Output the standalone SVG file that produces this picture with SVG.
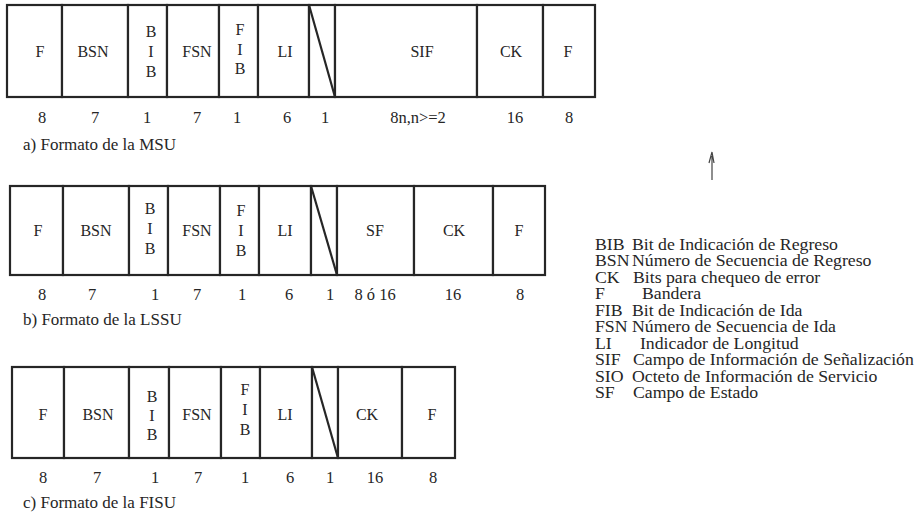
<svg xmlns="http://www.w3.org/2000/svg" width="921" height="516" viewBox="0 0 921 516">
  <style>
    .fld { fill: #fff; stroke: #262626; stroke-width: 2.2; }
    .slash { stroke: #262626; stroke-width: 2.2; fill: none; }
    text { font-family: "Liberation Serif", "Times New Roman", serif; fill: #262626; }
    .lbl { font-size: 16px; text-anchor: middle; }
    .num { font-size: 16.5px; text-anchor: middle; }
    .cap { font-size: 17px; }
    .leg { font-size: 16px; }
  </style>
  <rect width="921" height="516" fill="#fff"/>

  <!-- a) MSU -->
  <g id="msu">
    <g id="msu-f1"><rect class="fld" x="7" y="5" width="55" height="92"/><text class="lbl" x="40" y="57">F</text></g>
    <g id="msu-bsn"><rect class="fld" x="62" y="5" width="66" height="92"/><text class="lbl" x="93" y="57">BSN</text></g>
    <g id="msu-bib"><rect class="fld" x="128" y="5" width="39" height="92"/><text class="lbl" x="151" y="37">B</text><text class="lbl" x="151" y="57">I</text><text class="lbl" x="151" y="77">B</text></g>
    <g id="msu-fsn"><rect class="fld" x="167" y="5" width="52" height="92"/><text class="lbl" x="197" y="57">FSN</text></g>
    <g id="msu-fib"><rect class="fld" x="219" y="5" width="39" height="92"/><text class="lbl" x="240" y="35">F</text><text class="lbl" x="240" y="55">I</text><text class="lbl" x="240" y="74">B</text></g>
    <g id="msu-li"><rect class="fld" x="258" y="5" width="51" height="92"/><text class="lbl" x="285" y="57">LI</text></g>
    <g id="msu-sp"><rect class="fld" x="309" y="5" width="26" height="92"/><line class="slash" x1="309" y1="5" x2="335" y2="97"/></g>
    <g id="msu-sif"><rect class="fld" x="335" y="5" width="142" height="92"/><text class="lbl" x="422" y="57">SIF</text></g>
    <g id="msu-ck"><rect class="fld" x="477" y="5" width="66" height="92"/><text class="lbl" x="511" y="57">CK</text></g>
    <g id="msu-f2"><rect class="fld" x="543" y="5" width="52" height="92"/><text class="lbl" x="568" y="57">F</text></g>
    <g id="msu-bits">
      <text class="num" x="42" y="123">8</text><text class="num" x="95" y="123">7</text><text class="num" x="147" y="123">1</text>
      <text class="num" x="197" y="123">7</text><text class="num" x="237" y="123">1</text><text class="num" x="287" y="123">6</text>
      <text class="num" x="325" y="123">1</text><text class="num" x="418" y="123">8n,n&gt;=2</text><text class="num" x="515" y="123">16</text>
      <text class="num" x="569" y="123">8</text>
    </g>
    <text class="cap" x="23" y="150">a) Formato de la MSU</text>
  </g>

  <!-- b) LSSU -->
  <g id="lssu">
    <g id="lssu-f1"><rect class="fld" x="10" y="186" width="53" height="89"/><text class="lbl" x="38" y="236">F</text></g>
    <g id="lssu-bsn"><rect class="fld" x="63" y="186" width="66" height="89"/><text class="lbl" x="96" y="236">BSN</text></g>
    <g id="lssu-bib"><rect class="fld" x="129" y="186" width="39" height="89"/><text class="lbl" x="150" y="214">B</text><text class="lbl" x="150" y="234">I</text><text class="lbl" x="150" y="254">B</text></g>
    <g id="lssu-fsn"><rect class="fld" x="168" y="186" width="52" height="89"/><text class="lbl" x="197" y="236">FSN</text></g>
    <g id="lssu-fib"><rect class="fld" x="220" y="186" width="39" height="89"/><text class="lbl" x="241" y="216">F</text><text class="lbl" x="241" y="236">I</text><text class="lbl" x="241" y="256">B</text></g>
    <g id="lssu-li"><rect class="fld" x="259" y="186" width="52" height="89"/><text class="lbl" x="285" y="236">LI</text></g>
    <g id="lssu-sp"><rect class="fld" x="311" y="186" width="26" height="89"/><line class="slash" x1="311" y1="186" x2="337" y2="275"/></g>
    <g id="lssu-sf"><rect class="fld" x="337" y="186" width="77" height="89"/><text class="lbl" x="375" y="236">SF</text></g>
    <g id="lssu-ck"><rect class="fld" x="414" y="186" width="79" height="89"/><text class="lbl" x="454" y="236">CK</text></g>
    <g id="lssu-f2"><rect class="fld" x="493" y="186" width="52" height="89"/><text class="lbl" x="519" y="236">F</text></g>
    <g id="lssu-bits">
      <text class="num" x="42" y="300">8</text><text class="num" x="92" y="300">7</text><text class="num" x="155" y="300">1</text>
      <text class="num" x="197" y="300">7</text><text class="num" x="242" y="300">1</text><text class="num" x="289" y="300">6</text>
      <text class="num" x="330" y="300">1</text><text class="num" x="375" y="300">8 ó 16</text><text class="num" x="453" y="300">16</text>
      <text class="num" x="520" y="300">8</text>
    </g>
    <text class="cap" x="23" y="325">b) Formato de la LSSU</text>
  </g>

  <!-- c) FISU -->
  <g id="fisu">
    <g id="fisu-f1"><rect class="fld" x="12" y="367" width="52" height="91"/><text class="lbl" x="43" y="420">F</text></g>
    <g id="fisu-bsn"><rect class="fld" x="64" y="367" width="65" height="91"/><text class="lbl" x="98" y="420">BSN</text></g>
    <g id="fisu-bib"><rect class="fld" x="129" y="367" width="40" height="91"/><text class="lbl" x="152" y="402">B</text><text class="lbl" x="152" y="421">I</text><text class="lbl" x="152" y="440">B</text></g>
    <g id="fisu-fsn"><rect class="fld" x="169" y="367" width="52" height="91"/><text class="lbl" x="197" y="420">FSN</text></g>
    <g id="fisu-fib"><rect class="fld" x="221" y="367" width="39" height="91"/><text class="lbl" x="245" y="395">F</text><text class="lbl" x="245" y="415">I</text><text class="lbl" x="245" y="435">B</text></g>
    <g id="fisu-li"><rect class="fld" x="260" y="367" width="52" height="91"/><text class="lbl" x="285" y="420">LI</text></g>
    <g id="fisu-sp"><rect class="fld" x="312" y="367" width="26" height="91"/><line class="slash" x1="312" y1="367" x2="338" y2="458"/></g>
    <g id="fisu-ck"><rect class="fld" x="338" y="367" width="64" height="91"/><text class="lbl" x="367" y="420">CK</text></g>
    <g id="fisu-f2"><rect class="fld" x="402" y="367" width="53" height="91"/><text class="lbl" x="432" y="420">F</text></g>
    <g id="fisu-bits">
      <text class="num" x="43" y="483">8</text><text class="num" x="97" y="483">7</text><text class="num" x="155" y="483">1</text>
      <text class="num" x="198" y="483">7</text><text class="num" x="245" y="483">1</text><text class="num" x="290" y="483">6</text>
      <text class="num" x="330" y="483">1</text><text class="num" x="375" y="483">16</text><text class="num" x="433" y="483">8</text>
    </g>
    <text class="cap" x="23" y="508">c) Formato de la FISU</text>
  </g>

  <!-- abbreviation legend (typeset slightly wide) -->
  <g id="legend" transform="translate(595 0) scale(1.11 1) translate(-595 0)">
    <text class="leg" x="595" y="250">BIB</text><text class="leg" x="628.3" y="250">Bit de Indicación de Regreso</text>
    <text class="leg" x="595" y="266.5">BSN</text><text class="leg" x="628.3" y="266.5">Número de Secuencia de Regreso</text>
    <text class="leg" x="595" y="283">CK</text><text class="leg" x="629.2" y="283">Bits para chequeo de error</text>
    <text class="leg" x="595" y="299.5">F</text><text class="leg" x="637.3" y="299.5">Bandera</text>
    <text class="leg" x="595" y="316">FIB</text><text class="leg" x="628.3" y="316">Bit de Indicación de Ida</text>
    <text class="leg" x="595" y="332.5">FSN</text><text class="leg" x="628.3" y="332.5">Número de Secuencia de Ida</text>
    <text class="leg" x="595" y="349">LI</text><text class="leg" x="635.5" y="349">Indicador de Longitud</text>
    <text class="leg" x="595" y="365.5">SIF</text><text class="leg" x="629.2" y="365.5">Campo de Información de Señalización</text>
    <text class="leg" x="595" y="382">SIO</text><text class="leg" x="628.3" y="382">Octeto de Información de Servicio</text>
    <text class="leg" x="595" y="398.5">SF</text><text class="leg" x="629.2" y="398.5">Campo de Estado</text>
  </g>

  <!-- pen mark -->
  <path d="M712 180 L712 156 M709 163 L712 152 L714 163" stroke="#444" stroke-width="1.2" fill="none"/>
</svg>
